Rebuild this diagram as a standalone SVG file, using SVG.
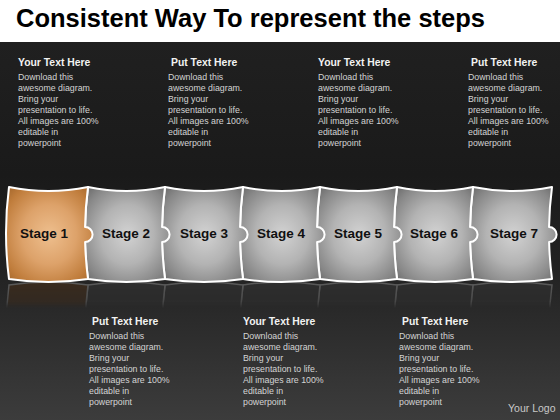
<svg xmlns="http://www.w3.org/2000/svg" xmlns:xlink="http://www.w3.org/1999/xlink" width="560" height="420" viewBox="0 0 560 420">
<style>
.title{font-family:"Liberation Sans",Arial,sans-serif;font-weight:bold;font-size:25.3px;fill:#000}
.hd{font-family:"Liberation Sans",Arial,sans-serif;font-weight:bold;font-size:10.4px;fill:#f2f2f2}
.bd{font-family:"Liberation Sans",Arial,sans-serif;font-size:8.8px;fill:#d4d4d4}
.lbl{font-family:"Liberation Sans",Arial,sans-serif;font-weight:bold;font-size:13.5px;fill:#111;stroke:none;text-anchor:middle}
.logo{font-family:"Liberation Sans",Arial,sans-serif;font-size:10.5px;fill:#c8c8c8}
.piece use{stroke:#fff;stroke-width:2;stroke-linejoin:round}
.grey use{fill:url(#gGrey)}
.orange use{fill:url(#gOrange)}
</style>
<defs>
<linearGradient id="bg" x1="0" y1="42" x2="0" y2="420" gradientUnits="userSpaceOnUse">
<stop offset="0" stop-color="#202020"/>
<stop offset="0.35" stop-color="#1a1a1a"/>
<stop offset="0.6" stop-color="#222"/>
<stop offset="1" stop-color="#3c3c3c"/>
</linearGradient>
<radialGradient id="gGrey" cx="0.5" cy="0.5" r="0.7">
<stop offset="0" stop-color="#d2d2d2"/>
<stop offset="0.45" stop-color="#b3b3b3"/>
<stop offset="0.8" stop-color="#878787"/>
<stop offset="1" stop-color="#666"/>
</radialGradient>
<radialGradient id="gOrange" cx="0.5" cy="0.5" r="0.7">
<stop offset="0" stop-color="#eebf8e"/>
<stop offset="0.45" stop-color="#dda26a"/>
<stop offset="0.8" stop-color="#c07d3c"/>
<stop offset="1" stop-color="#a2652a"/>
</radialGradient>
<linearGradient id="fadeG" x1="0" y1="282" x2="0" y2="308" gradientUnits="userSpaceOnUse">
<stop offset="0" stop-color="#fff"/>
<stop offset="0.75" stop-color="#fff" stop-opacity="0.6"/>
<stop offset="1" stop-color="#fff" stop-opacity="0"/>
</linearGradient>
<mask id="fade" maskUnits="userSpaceOnUse" x="0" y="270" width="560" height="50">
<rect x="0" y="270" width="560" height="50" fill="url(#fadeG)"/>
</mask>
<path id="s1" d="M9,187 Q48.5,195 88,187 Q85.39,207 85.05,227 A7.5 7.5 0 0 1 85.12,242 Q85.59,260.5 88,279 Q48.5,285 9,279 Q3,233 9,187Z"/>
<path id="s2" d="M88,187 Q126.5,195 165,187 Q162.39,207 162.05,227 A7.5 7.5 0 0 1 162.12,242 Q162.59,260.5 165,279 Q126.5,285 88,279 Q82,233 88,187Z"/>
<path id="s3" d="M165,187 Q204,195 243,187 Q240.39,207 240.05,227 A7.5 7.5 0 0 1 240.12,242 Q240.59,260.5 243,279 Q204,285 165,279 Q159,233 165,187Z"/>
<path id="s4" d="M243,187 Q281.5,195 320,187 Q317.39,207 317.05,227 A7.5 7.5 0 0 1 317.12,242 Q317.59,260.5 320,279 Q281.5,285 243,279 Q237,233 243,187Z"/>
<path id="s5" d="M320,187 Q358.5,195 397,187 Q394.39,207 394.05,227 A7.5 7.5 0 0 1 394.12,242 Q394.59,260.5 397,279 Q358.5,285 320,279 Q314,233 320,187Z"/>
<path id="s6" d="M397,187 Q435,195 473,187 Q470.39,207 470.05,227 A7.5 7.5 0 0 1 470.12,242 Q470.59,260.5 473,279 Q435,285 397,279 Q391,233 397,187Z"/>
<path id="s7" d="M473,187 Q512.5,195 552,187 Q549.39,207 549.05,227 A7.5 7.5 0 0 1 549.12,242 Q549.59,260.5 552,279 Q512.5,285 473,279 Q467,233 473,187Z"/>
</defs>

<rect x="0" y="0" width="560" height="420" fill="#fff"/>
<rect x="0" y="42" width="560" height="378" fill="url(#bg)"/>

<text class="title" x="16" y="27" textLength="469" lengthAdjust="spacingAndGlyphs">Consistent Way To represent the steps</text>

<!-- reflections -->
<g id="reflection" mask="url(#fade)">
<g transform="translate(0,564) scale(1,-1)" stroke="#5c5c5c" stroke-width="1.5" fill="#2e2e2e">
<use xlink:href="#s7"/>
<use xlink:href="#s6"/>
<use xlink:href="#s5"/>
<use xlink:href="#s4"/>
<use xlink:href="#s3"/>
<use xlink:href="#s2"/>
<use xlink:href="#s1" fill="#3a2b1e"/>
</g>
</g>

<!-- stages (drawn right to left so each tab overlaps its neighbour) -->
<g id="stage-7" class="piece grey"><use xlink:href="#s7"/><text class="lbl" x="514" y="238">Stage 7</text></g>
<g id="stage-6" class="piece grey"><use xlink:href="#s6"/><text class="lbl" x="434" y="238">Stage 6</text></g>
<g id="stage-5" class="piece grey"><use xlink:href="#s5"/><text class="lbl" x="358" y="238">Stage 5</text></g>
<g id="stage-4" class="piece grey"><use xlink:href="#s4"/><text class="lbl" x="281" y="238">Stage 4</text></g>
<g id="stage-3" class="piece grey"><use xlink:href="#s3"/><text class="lbl" x="204" y="238">Stage 3</text></g>
<g id="stage-2" class="piece grey"><use xlink:href="#s2"/><text class="lbl" x="126" y="238">Stage 2</text></g>
<g id="stage-1" class="piece orange"><use xlink:href="#s1"/><text class="lbl" x="44" y="238">Stage 1</text></g>

<!-- top text blocks -->
<g id="text-top-1">
<text class="hd" x="18" y="66">Your Text Here</text>
<text class="bd" x="18" y="80">Download this</text>
<text class="bd" x="18" y="91">awesome diagram.</text>
<text class="bd" x="18" y="102">Bring your</text>
<text class="bd" x="18" y="113">presentation to life.</text>
<text class="bd" x="18" y="124">All images are 100%</text>
<text class="bd" x="18" y="135">editable in</text>
<text class="bd" x="18" y="146">powerpoint</text>
</g>
<g id="text-top-2">
<text class="hd" x="171" y="66">Put Text Here</text>
<text class="bd" x="168" y="80">Download this</text>
<text class="bd" x="168" y="91">awesome diagram.</text>
<text class="bd" x="168" y="102">Bring your</text>
<text class="bd" x="168" y="113">presentation to life.</text>
<text class="bd" x="168" y="124">All images are 100%</text>
<text class="bd" x="168" y="135">editable in</text>
<text class="bd" x="168" y="146">powerpoint</text>
</g>
<g id="text-top-3">
<text class="hd" x="318" y="66">Your Text Here</text>
<text class="bd" x="318" y="80">Download this</text>
<text class="bd" x="318" y="91">awesome diagram.</text>
<text class="bd" x="318" y="102">Bring your</text>
<text class="bd" x="318" y="113">presentation to life.</text>
<text class="bd" x="318" y="124">All images are 100%</text>
<text class="bd" x="318" y="135">editable in</text>
<text class="bd" x="318" y="146">powerpoint</text>
</g>
<g id="text-top-4">
<text class="hd" x="471" y="66">Put Text Here</text>
<text class="bd" x="468" y="80">Download this</text>
<text class="bd" x="468" y="91">awesome diagram.</text>
<text class="bd" x="468" y="102">Bring your</text>
<text class="bd" x="468" y="113">presentation to life.</text>
<text class="bd" x="468" y="124">All images are 100%</text>
<text class="bd" x="468" y="135">editable in</text>
<text class="bd" x="468" y="146">powerpoint</text>
</g>

<!-- bottom text blocks -->
<g id="text-bottom-1">
<text class="hd" x="92" y="325">Put Text Here</text>
<text class="bd" x="89" y="339">Download this</text>
<text class="bd" x="89" y="350">awesome diagram.</text>
<text class="bd" x="89" y="361">Bring your</text>
<text class="bd" x="89" y="372">presentation to life.</text>
<text class="bd" x="89" y="383">All images are 100%</text>
<text class="bd" x="89" y="394">editable in</text>
<text class="bd" x="89" y="405">powerpoint</text>
</g>
<g id="text-bottom-2">
<text class="hd" x="243" y="325">Your Text Here</text>
<text class="bd" x="243" y="339">Download this</text>
<text class="bd" x="243" y="350">awesome diagram.</text>
<text class="bd" x="243" y="361">Bring your</text>
<text class="bd" x="243" y="372">presentation to life.</text>
<text class="bd" x="243" y="383">All images are 100%</text>
<text class="bd" x="243" y="394">editable in</text>
<text class="bd" x="243" y="405">powerpoint</text>
</g>
<g id="text-bottom-3">
<text class="hd" x="402" y="325">Put Text Here</text>
<text class="bd" x="399" y="339">Download this</text>
<text class="bd" x="399" y="350">awesome diagram.</text>
<text class="bd" x="399" y="361">Bring your</text>
<text class="bd" x="399" y="372">presentation to life.</text>
<text class="bd" x="399" y="383">All images are 100%</text>
<text class="bd" x="399" y="394">editable in</text>
<text class="bd" x="399" y="405">powerpoint</text>
</g>

<text class="logo" x="508" y="412">Your Logo</text>
</svg>
